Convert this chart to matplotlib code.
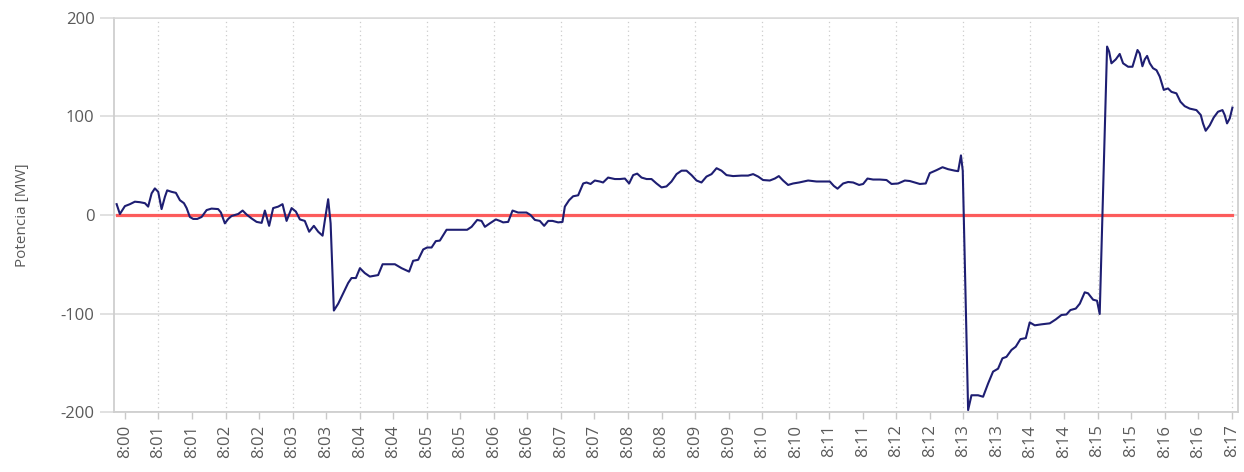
import numpy as np
import matplotlib.pyplot as plt
from matplotlib.ticker import FuncFormatter

# seconds after 8:00:00 and power in MW
segundos = [
    32.6, 35.5, 40.0, 44.5, 48.9, 53.4, 57.9, 60.8, 63.9, 66.8, 69.8, 72.8, 75.8, 77.8,
    81.8, 85.6, 89.2, 92.8, 95.2, 98.1, 101.1, 104.7, 108.6, 113.1, 117.5, 123.4, 125.9,
    129.4, 132.4, 135.4, 141.3, 145.3, 148.8, 153.3, 157.8, 162.3, 165.2, 169.0, 172.6,
    177.1, 181.0, 184.6, 189.1, 192.9, 196.5, 200.9, 204.8, 209.0, 212.9, 216.8, 218.9,
    221.8, 224.0, 226.9, 230.8, 235.2, 239.7, 242.7, 246.6, 250.2, 254.6, 259.1, 266.5,
    270.5, 281.5, 287.5, 294.2, 297.8, 302.3, 306.8, 310.3, 314.3, 318.1, 321.7, 327.7,
    336.6, 346.1, 350.1, 355.1, 359.0, 362.0, 366.4, 371.8, 375.4, 378.3, 382.8, 386.7,
    391.7, 399.2, 402.8, 406.7, 411.1, 415.0, 418.6, 422.5, 427.5, 431.4, 433.5, 437.3,
    440.9, 445.4, 449.9, 452.9, 456.5, 460.3, 464.8, 467.7, 472.2, 478.2, 482.7, 487.2,
    491.0, 494.6, 498.2, 502.1, 506.6, 511.0, 515.5, 520.0, 524.4, 528.9, 533.4, 537.9,
    542.3, 546.8, 551.3, 555.7, 560.2, 564.7, 569.2, 573.6, 578.1, 584.0, 591.5, 597.4,
    601.9, 606.4, 610.8, 616.8, 621.3, 624.9, 628.7, 633.2, 637.7, 643.0, 651.1, 658.6,
    670.5, 674.1, 677.4, 682.4, 686.9, 691.4, 696.7, 700.3, 704.2, 709.2, 715.2, 721.2,
    725.7, 731.6, 737.6, 742.0, 746.5, 751.0, 756.3, 759.9, 765.9, 771.3, 776.3, 782.3,
    785.3, 787.8, 789.4, 794.2, 797.2, 803.1, 807.6, 812.1, 816.5, 821.0, 824.9, 828.5,
    833.0, 836.8, 841.0, 845.8, 849.3, 853.8, 859.8, 867.2, 872.6, 877.7, 882.1, 885.7,
    890.5, 894.1, 898.5, 901.5, 906.0, 909.5, 911.9, 918.5, 920.3, 922.4, 926.3, 929.8,
    932.8, 937.3, 941.2, 945.7, 947.7, 950.1, 952.2, 954.3, 956.7, 959.6, 962.7, 965.6,
    969.2, 973.0, 976.1, 980.5, 984.1, 987.9, 992.4, 998.4, 1002.3, 1004.3, 1006.7,
    1010.3, 1013.9, 1017.7, 1021.7, 1023.7, 1025.8, 1028.2, 1030.6,
]
potencia = [
    11, 1, 9, 11, 13.5, 13, 12, 8.5, 22, 27, 23.5, 6, 18.5, 25,
    23.5, 22.5, 15, 12, 7, -2, -4, -4, -2, 5, 6.5, 6, 2.5,
    -8.5, -4, -1, 1, 4.5, 0.5, -3.5, -7, -8, 4.5, -11, 7,
    8.5, 11, -6, 7, 3.5, -4.5, -6, -17, -11, -17, -21, -5,
    16, -8.5, -97, -90, -79.5, -69, -64, -64, -54, -59, -62.5, -61,
    -50, -50, -54, -57.5, -46.5, -45.5, -35, -33, -33, -26.5, -26, -15,
    -15, -15, -12, -5, -6, -12, -8.5, -4.5, -6, -7.5, -7, 4.5,
    2.5, 2.5, 0, -5, -6, -11, -6, -6, -7.5, -7, 8.5, 15,
    19, 20, 32, 33, 31.5, 35, 34, 33, 38, 36.5, 36.5, 37,
    32, 40.5, 42, 38, 36.5, 36.5, 32, 28, 29, 34, 41.5, 45,
    45, 40.5, 35, 33, 39, 41.5, 47.5, 45, 40.5, 39.5, 40, 40,
    41.5, 39, 35.5, 35, 37, 39.5, 35, 30.5, 32, 33, 35, 34,
    34, 29.5, 26.7, 32, 33.5, 33, 30.5, 31.5, 37, 36, 36, 35.5,
    31.5, 32, 35, 34.5, 33, 31.5, 32, 42.5, 45.5, 48.5, 46.5, 45,
    44.5, 60.5, 45, -198, -183, -183, -184.5, -171, -159, -156, -145.5, -144,
    -137, -133.7, -126, -125, -109, -112, -111, -110, -106, -101.5, -101, -96.5,
    -95, -90, -78.5, -79.5, -86, -87, -100.5, 171, 166, 154, 158, 163.5,
    154, 150.5, 150.5, 167.5, 164, 151, 158, 161.5, 154, 149, 147, 140.5,
    127, 128.5, 125, 123.5, 115, 110.5, 108, 106.5, 101.5, 93, 85.5,
    91, 99, 104.8, 106.5, 101.5, 93, 98, 109,
]
referencia = [0] * len(segundos)

# ticks every 30 s, first one at 8:00:40
ticks_x = np.arange(40, 1031, 30)
ticks_y = [-200, -100, 0, 100, 200]

gris_txt = "#5a5a5a"
gris_lin = "#d9d9d9"

plt.rcParams["font.family"] = ["Open Sans", "DejaVu Sans"]
plt.rcParams["axes.unicode_minus"] = False

fig = plt.figure(figsize=(12.44, 4.72), dpi=100)
ax = fig.add_axes([0.0916, 0.1271, 0.9034, 0.8348])

for t in ticks_x[1::2]:
    ax.axvline(t, color="#cdcdcd", lw=0.9, ls=(0, (1, 2.5)), zorder=1)
ax.set_yticks(ticks_y)
ax.yaxis.grid(True, color=gris_lin, lw=1.1, zorder=1)
ax.set_axisbelow(True)

ax.plot(segundos, referencia, color="#ff4d4d", lw=2.3, alpha=0.9, zorder=2)
ax.plot(segundos, potencia, color="#1e1e72", lw=1.5, solid_joinstyle="round", zorder=3)

ax.set_xlim(30.2, 1035.4)
ax.set_ylim(-200, 200)
ax.set_xticks(ticks_x)
ax.xaxis.set_major_formatter(FuncFormatter(lambda s, pos: f"8:{int(s // 60):02d}"))
ax.tick_params(axis="x", rotation=90, length=5, width=1, color="#c9c9c9",
               labelsize=12, labelcolor=gris_txt, pad=4)
ax.tick_params(axis="y", length=10, width=1.1, color=gris_lin,
               labelsize=12, labelcolor=gris_txt, pad=4)

for lado in ["left", "bottom", "right"]:
    ax.spines[lado].set_color("#cfcfcf")
    ax.spines[lado].set_linewidth(1.3)
ax.spines["top"].set_color(gris_lin)
ax.spines["top"].set_linewidth(1.1)

ax.set_ylabel("Potencia [MW]", fontsize=11, color=gris_txt, labelpad=22)

fig.savefig("out.png", dpi=100)
